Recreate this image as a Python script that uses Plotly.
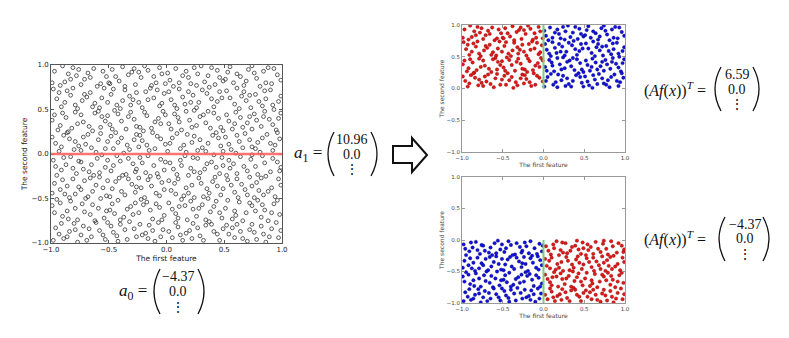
import plotly.graph_objects as go

# ---------------- data ----------------
points = [
 (-0.97,0.93),(-0.88,0.81),(-0.81,0.97),(-0.92,0.77),(-0.78,0.88),(-0.85,0.90),
 (-0.71,0.84),(-0.63,0.96),(-0.57,0.79),(-0.68,0.91),(-0.52,0.87),(-0.60,0.76),
 (-0.47,0.95),(-0.41,0.82),(-0.33,0.89),(-0.27,0.78),(-0.38,0.98),(-0.30,0.92),
 (-0.22,0.86),(-0.16,0.94),(-0.09,0.80),(-0.04,0.90),(-0.13,0.77),(-0.19,0.99),
 (0.03,0.83),(0.08,0.96),(0.14,0.88),(0.21,0.79),(0.17,0.93),(0.06,0.76),
 (0.27,0.90),(0.33,0.81),(0.39,0.97),(0.46,0.86),(0.42,0.78),(0.30,0.99),
 (0.53,0.92),(0.58,0.80),(0.64,0.87),(0.71,0.95),(0.67,0.77),(0.55,0.98),
 (0.78,0.85),(0.84,0.93),(0.91,0.79),(0.96,0.89),(0.88,0.97),(0.81,0.76),
 (-0.95,0.62),(-0.86,0.71),(-0.79,0.55),(-0.91,0.53),(-0.83,0.66),(-0.98,0.73),
 (-0.73,0.60),(-0.66,0.69),(-0.58,0.52),(-0.54,0.74),(-0.62,0.57),(-0.69,0.64),
 (-0.48,0.67),(-0.43,0.55),(-0.36,0.72),(-0.29,0.61),(-0.40,0.51),(-0.32,0.65),
 (-0.24,0.58),(-0.18,0.70),(-0.11,0.63),(-0.06,0.54),(-0.14,0.74),(-0.02,0.68),
 (0.04,0.61),(0.11,0.73),(0.16,0.56),(0.23,0.66),(0.09,0.51),(0.19,0.70),
 (0.28,0.58),(0.35,0.68),(0.41,0.53),(0.48,0.63),(0.37,0.75),(0.44,0.59),
 (0.52,0.71),(0.59,0.56),(0.65,0.65),(0.73,0.52),(0.61,0.74),(0.69,0.60),
 (0.77,0.67),(0.83,0.54),(0.90,0.72),(0.97,0.59),(0.86,0.62),(0.93,0.50),
 (-0.99,0.38),(-0.90,0.46),(-0.82,0.29),(-0.87,0.41),(-0.77,0.34),(-0.94,0.27),
 (-0.74,0.44),(-0.67,0.31),(-0.59,0.48),(-0.53,0.37),(-0.64,0.26),(-0.56,0.42),
 (-0.49,0.33),(-0.42,0.45),(-0.35,0.28),(-0.28,0.39),(-0.45,0.49),(-0.31,0.47),
 (-0.23,0.30),(-0.17,0.43),(-0.10,0.36),(-0.03,0.48),(-0.20,0.26),(-0.07,0.40),
 (0.02,0.34),(0.07,0.45),(0.13,0.27),(0.20,0.38),(0.24,0.49),(0.10,0.41),
 (0.26,0.32),(0.32,0.44),(0.38,0.29),(0.45,0.40),(0.49,0.26),(0.36,0.48),
 (0.54,0.37),(0.60,0.47),(0.66,0.30),(0.72,0.42),(0.57,0.28),(0.70,0.35),
 (0.76,0.45),(0.82,0.31),(0.89,0.39),(0.95,0.27),(0.99,0.46),(0.85,0.48),
 (-0.96,0.12),(-0.89,0.21),(-0.80,0.05),(-0.93,0.03),(-0.84,0.17),(-0.76,0.09),
 (-0.72,0.19),(-0.65,0.07),(-0.57,0.23),(-0.51,0.14),(-0.61,0.02),(-0.70,0.11),
 (-0.46,0.06),(-0.39,0.18),(-0.34,0.10),(-0.26,0.22),(-0.44,0.24),(-0.37,0.01),
 (-0.21,0.15),(-0.15,0.04),(-0.08,0.20),(-0.01,0.11),(-0.12,0.24),(-0.24,0.08),
 (0.05,0.18),(0.12,0.06),(0.18,0.22),(0.22,0.13),(0.01,0.03),(0.15,0.10),
 (0.29,0.16),(0.34,0.03),(0.40,0.21),(0.47,0.09),(0.43,0.24),(0.31,0.07),
 (0.51,0.19),(0.56,0.05),(0.63,0.14),(0.68,0.23),(0.74,0.08),(0.60,0.01),
 (0.79,0.13),(0.87,0.22),(0.92,0.04),(0.98,0.17),(0.81,0.02),(0.94,0.10),
 (-0.98,-0.07),(-0.91,-0.18),(-0.83,-0.03),(-0.78,-0.22),(-0.87,-0.12),(-0.95,-0.24),
 (-0.74,-0.09),(-0.67,-0.20),(-0.60,-0.05),(-0.53,-0.15),(-0.63,-0.24),(-0.56,-0.01),
 (-0.48,-0.19),(-0.40,-0.08),(-0.35,-0.23),(-0.29,-0.11),(-0.43,-0.02),(-0.26,-0.17),
 (-0.23,-0.04),(-0.18,-0.21),(-0.11,-0.13),(-0.05,-0.06),(-0.14,-0.25),(-0.02,-0.18),
 (0.03,-0.10),(0.09,-0.23),(0.16,-0.02),(0.21,-0.16),(0.12,-0.07),(0.24,-0.20),
 (0.27,-0.05),(0.33,-0.17),(0.39,-0.09),(0.46,-0.22),(0.41,-0.01),(0.49,-0.13),
 (0.52,-0.24),(0.58,-0.11),(0.64,-0.03),(0.70,-0.19),(0.55,-0.16),(0.73,-0.06),
 (0.77,-0.14),(0.83,-0.02),(0.90,-0.20),(0.96,-0.09),(0.86,-0.25),(0.99,-0.15),
 (-0.97,-0.33),(-0.88,-0.45),(-0.81,-0.28),(-0.92,-0.40),(-0.76,-0.37),(-0.84,-0.49),
 (-0.71,-0.30),(-0.64,-0.42),(-0.58,-0.26),(-0.52,-0.47),(-0.68,-0.48),(-0.61,-0.35),
 (-0.47,-0.39),(-0.41,-0.27),(-0.36,-0.46),(-0.30,-0.34),(-0.27,-0.43),(-0.44,-0.31),
 (-0.22,-0.38),(-0.16,-0.29),(-0.09,-0.44),(-0.04,-0.32),(-0.19,-0.49),(-0.07,-0.26),
 (0.04,-0.41),(0.10,-0.28),(0.15,-0.47),(0.22,-0.35),(0.07,-0.33),(0.19,-0.44),
 (0.28,-0.27),(0.35,-0.39),(0.40,-0.31),(0.47,-0.46),(0.32,-0.48),(0.44,-0.36),
 (0.53,-0.29),(0.59,-0.43),(0.65,-0.34),(0.72,-0.26),(0.62,-0.49),(0.68,-0.40),
 (0.78,-0.32),(0.84,-0.46),(0.91,-0.38),(0.97,-0.28),(0.80,-0.41),(0.94,-0.48),
 (-0.99,-0.58),(-0.90,-0.70),(-0.83,-0.53),(-0.86,-0.64),(-0.77,-0.74),(-0.95,-0.51),
 (-0.73,-0.56),(-0.66,-0.68),(-0.59,-0.61),(-0.54,-0.72),(-0.70,-0.50),(-0.62,-0.75),
 (-0.49,-0.63),(-0.42,-0.52),(-0.37,-0.71),(-0.31,-0.59),(-0.45,-0.67),(-0.27,-0.55),
 (-0.24,-0.66),(-0.17,-0.54),(-0.12,-0.73),(-0.06,-0.60),(-0.20,-0.57),(-0.02,-0.69),
 (0.02,-0.55),(0.08,-0.67),(0.13,-0.51),(0.18,-0.74),(0.23,-0.62),(0.11,-0.59),
 (0.26,-0.70),(0.31,-0.57),(0.38,-0.65),(0.43,-0.53),(0.48,-0.72),(0.36,-0.50),
 (0.51,-0.61),(0.57,-0.73),(0.63,-0.54),(0.69,-0.66),(0.74,-0.58),(0.60,-0.69),
 (0.79,-0.52),(0.85,-0.63),(0.88,-0.75),(0.93,-0.56),(0.98,-0.68),(0.82,-0.71),
 (-0.96,-0.83),(-0.89,-0.95),(-0.80,-0.78),(-0.93,-0.90),(-0.84,-0.87),(-0.77,-0.99),
 (-0.72,-0.81),(-0.65,-0.93),(-0.58,-0.86),(-0.51,-0.77),(-0.69,-0.97),(-0.55,-0.91),
 (-0.46,-0.88),(-0.40,-0.79),(-0.34,-0.96),(-0.28,-0.84),(-0.43,-0.92),(-0.32,-0.76),
 (-0.21,-0.91),(-0.15,-0.80),(-0.10,-0.98),(-0.03,-0.85),(-0.18,-0.89),(-0.07,-0.77),
 (0.05,-0.94),(0.10,-0.82),(0.17,-0.89),(0.23,-0.78),(0.14,-0.97),(0.20,-0.86),
 (0.29,-0.92),(0.34,-0.80),(0.41,-0.87),(0.46,-0.97),(0.37,-0.76),(0.49,-0.84),
 (0.54,-0.90),(0.61,-0.79),(0.66,-0.95),(0.72,-0.85),(0.57,-0.83),(0.70,-0.98),
 (0.76,-0.88),(0.82,-0.81),(0.89,-0.93),(0.95,-0.77),(0.99,-0.86),(0.86,-0.99),
 # second batch
 (-0.99,0.80),(-0.90,0.99),(-0.83,0.84),(-0.76,0.95),
 (-0.74,0.78),(-0.66,0.86),(-0.55,0.93),(-0.50,0.80),
 (-0.44,0.87),(-0.36,0.76),(-0.28,0.96),(-0.49,0.79),
 (-0.24,0.92),(-0.11,0.87),(-0.06,0.97),(-0.01,0.79),
 (0.01,0.91),(0.11,0.80),(0.19,0.86),(0.24,0.97),
 (0.26,0.77),(0.36,0.88),(0.44,0.94),(0.49,0.82),
 (0.51,0.84),(0.61,0.90),(0.69,0.82),(0.74,0.99),
 (0.76,0.91),(0.86,0.80),(0.93,0.96),(0.99,0.83),
 (-0.93,0.69),(-0.88,0.58),(-0.81,0.74),(-0.77,0.51),
 (-0.71,0.67),(-0.64,0.53),(-0.56,0.63),(-0.51,0.58),
 (-0.46,0.73),(-0.38,0.60),(-0.31,0.55),(-0.26,0.69),
 (-0.21,0.52),(-0.16,0.61),(-0.08,0.72),(-0.04,0.57),
 (0.02,0.70),(0.07,0.55),(0.14,0.64),(0.21,0.58),
 (0.31,0.72),(0.39,0.62),(0.46,0.70),(0.26,0.52),
 (0.55,0.63),(0.63,0.51),(0.67,0.70),(0.72,0.66),
 (0.80,0.59),(0.85,0.71),(0.92,0.55),(0.99,0.65),
 (-0.97,0.44),(-0.92,0.32),(-0.85,0.25),(-0.79,0.47),
 (-0.72,0.36),(-0.62,0.46),(-0.57,0.30),(-0.51,0.43),
 (-0.47,0.28),(-0.39,0.37),(-0.33,0.42),(-0.26,0.31),
 (-0.19,0.47),(-0.13,0.29),(-0.05,0.34),(-0.01,0.44),
 (0.04,0.28),(0.11,0.36),(0.17,0.48),(0.22,0.30),
 (0.29,0.42),(0.34,0.35),(0.41,0.46),(0.47,0.30),
 (0.52,0.44),(0.59,0.34),(0.64,0.41),(0.74,0.28),
 (0.78,0.38),(0.84,0.42),(0.92,0.33),(0.97,0.40),
 (-0.99,0.19),(-0.91,0.08),(-0.86,0.24),(-0.79,0.14),
 (-0.74,0.04),(-0.68,0.22),(-0.59,0.16),(-0.53,0.06),
 (-0.48,0.20),(-0.42,0.13),(-0.32,0.05),(-0.28,0.16),
 (-0.23,0.21),(-0.17,0.10),(-0.10,0.06),(-0.05,0.17),
 (0.03,0.12),(0.09,0.23),(0.17,0.02),(0.24,0.20),
 (0.27,0.04),(0.36,0.12),(0.45,0.18),(0.49,0.03),
 (0.54,0.11),(0.61,0.21),(0.66,0.07),(0.72,0.16),
 (0.77,0.06),(0.83,0.18),(0.90,0.12),(0.96,0.24),
 (-0.96,-0.14),(-0.89,-0.04),(-0.81,-0.16),(-0.76,-0.08),
 (-0.72,-0.17),(-0.65,-0.12),(-0.58,-0.21),(-0.51,-0.07),
 (-0.46,-0.13),(-0.38,-0.24),(-0.33,-0.05),(-0.27,-0.20),
 (-0.21,-0.10),(-0.16,-0.02),(-0.08,-0.22),(-0.01,-0.09),
 (0.06,-0.17),(0.13,-0.13),(0.19,-0.24),(0.23,-0.04),
 (0.29,-0.21),(0.35,-0.11),(0.43,-0.15),(0.48,-0.04),
 (0.54,-0.07),(0.61,-0.22),(0.67,-0.14),(0.74,-0.01),
 (0.79,-0.23),(0.85,-0.10),(0.92,-0.05),(0.98,-0.19),
 (-0.99,-0.44),(-0.90,-0.29),(-0.86,-0.36),(-0.79,-0.45),
 (-0.74,-0.40),(-0.66,-0.27),(-0.55,-0.38),(-0.51,-0.30),
 (-0.49,-0.48),(-0.39,-0.42),(-0.33,-0.28),(-0.26,-0.37),
 (-0.24,-0.27),(-0.13,-0.36),(-0.06,-0.47),(-0.02,-0.40),
 (0.02,-0.30),(0.08,-0.45),(0.17,-0.38),(0.24,-0.49),
 (0.30,-0.33),(0.37,-0.44),(0.42,-0.26),(0.49,-0.39),
 (0.56,-0.35),(0.61,-0.28),(0.70,-0.46),(0.74,-0.36),
 (0.76,-0.49),(0.82,-0.27),(0.88,-0.42),(0.99,-0.35),
 (-0.97,-0.66),(-0.92,-0.55),(-0.85,-0.73),(-0.79,-0.61),
 (-0.71,-0.65),(-0.64,-0.57),(-0.57,-0.50),(-0.52,-0.64),
 (-0.47,-0.56),(-0.40,-0.74),(-0.34,-0.62),(-0.29,-0.68),
 (-0.22,-0.51),(-0.14,-0.63),(-0.09,-0.56),(-0.04,-0.74),
 (0.05,-0.62),(0.10,-0.72),(0.16,-0.58),(0.21,-0.53),
 (0.28,-0.61),(0.34,-0.74),(0.41,-0.59),(0.46,-0.66),
 (0.53,-0.52),(0.59,-0.64),(0.66,-0.75),(0.72,-0.55),
 (0.77,-0.64),(0.83,-0.57),(0.91,-0.66),(0.96,-0.52),
 (-0.98,-0.97),(-0.91,-0.78),(-0.86,-0.93),(-0.79,-0.85),
 (-0.74,-0.91),(-0.67,-0.84),(-0.61,-0.77),(-0.53,-0.96),
 (-0.48,-0.81),(-0.42,-0.98),(-0.36,-0.85),(-0.26,-0.93),
 (-0.23,-0.79),(-0.16,-0.95),(-0.12,-0.86),(-0.05,-0.93),
 (0.02,-0.87),(0.08,-0.77),(0.12,-0.91),(0.22,-0.95),
 (0.27,-0.83),(0.32,-0.97),(0.39,-0.79),(0.44,-0.90),
 (0.52,-0.80),(0.59,-0.94),(0.64,-0.87),(0.74,-0.79),
 (0.78,-0.96),(0.84,-0.90),(0.91,-0.84),(0.97,-0.94),
]
xs = [p[0] for p in points]
ys = [p[1] for p in points]

tick_vals = [-1.0, -0.5, 0.0, 0.5, 1.0]
tick_text = ["\u22121.0", "\u22120.5", "0.0", "0.5", "1.0"]
x_title = "The first feature"
y_title = "The second feature"

a1_entries = ["10.96", "0.0", "\u22ee"]
a0_entries = ["\u22124.37", "0.0", "\u22ee"]
top_entries = ["6.59", "0.0", "\u22ee"]
bot_entries = ["\u22124.37", "0.0", "\u22ee"]

RED = "#e01818"
RED_EDGE = "#8a0000"
BLUE = "#1010e0"
BLUE_EDGE = "#000070"
GREEN = "#7ccc7c"

W, H = 789, 338
def px(x): return x / W
def py(y): return 1 - y / H

fig = go.Figure()

fig.add_trace(go.Scatter(x=xs, y=ys, mode="markers", xaxis="x", yaxis="y",
    marker=dict(symbol="circle-open", size=3.8, color="#333", line=dict(width=0.8)),
    showlegend=False, hoverinfo="skip"))

tr_red = [(x, y) for x, y in points if y > 0 and x < 0]
tr_blue = [(x, y) for x, y in points if y > 0 and x >= 0]
br_blue = [(x, y) for x, y in points if y < 0 and x < 0]
br_red = [(x, y) for x, y in points if y < 0 and x >= 0]

def sc(pts, color, edge, ax, ay):
    fig.add_trace(go.Scatter(x=[p[0] for p in pts], y=[p[1] for p in pts], mode="markers",
        xaxis=ax, yaxis=ay,
        marker=dict(symbol="circle", size=3.4, color=color, line=dict(width=0.4, color=edge)),
        showlegend=False, hoverinfo="skip"))

sc(tr_red, RED, RED_EDGE, "x2", "y2")
sc(tr_blue, BLUE, BLUE_EDGE, "x2", "y2")
sc(br_blue, BLUE, BLUE_EDGE, "x3", "y3")
sc(br_red, RED, RED_EDGE, "x3", "y3")

def axis(domain, anchor, title, size_t, size_tick, color, linecolor, standoff):
    return dict(domain=domain, anchor=anchor, range=[-1, 1], tickvals=tick_vals, ticktext=tick_text,
                ticks="inside", ticklen=3, tickcolor=linecolor, showgrid=False, zeroline=False,
                showline=True, linecolor=linecolor, linewidth=1, mirror="ticks", automargin=False,
                tickfont=dict(family="DejaVu Sans", size=size_tick, color=color),
                title=dict(text=title, font=dict(family="DejaVu Sans", size=size_t, color=color), standoff=standoff))

fig.update_layout(
    width=W, height=H, margin=dict(l=0, r=0, t=0, b=0, autoexpand=False),
    paper_bgcolor="white", plot_bgcolor="white",
    xaxis=axis([px(51), px(282)], "y", x_title, 7.5, 7, "#222", "#555", 2),
    yaxis=axis([py(243), py(65)], "x", y_title, 7.5, 7, "#222", "#555", 2),
    xaxis2=axis([px(462), px(625)], "y2", x_title, 6, 5.5, "#444", "#999", 1),
    yaxis2=axis([py(152), py(25)], "x2", y_title, 6, 5.5, "#444", "#999", 1),
    xaxis3=axis([px(462), px(625)], "y3", x_title, 6, 5.5, "#444", "#999", 1),
    yaxis3=axis([py(303), py(177)], "x3", y_title, 6, 5.5, "#444", "#999", 1),
)

shapes = []
shapes.append(dict(type="line", xref="x", yref="y", x0=-1, x1=1, y0=0, y1=0,
                   line=dict(color="rgba(255,90,90,0.85)", width=2.5)))
shapes.append(dict(type="line", xref="x2", yref="y2", x0=0, x1=0, y0=0, y1=1,
                   line=dict(color=GREEN, width=2)))
shapes.append(dict(type="line", xref="x3", yref="y3", x0=0, x1=0, y0=-1, y1=0,
                   line=dict(color=GREEN, width=2)))

def paren(xo, xi, yt, yb, lw=1.3):
    ym = (yt + yb) / 2
    xc = 2 * xo - xi
    path = f"M {px(xi)},{py(yt)} Q {px(xc)},{py(ym)} {px(xi)},{py(yb)}"
    shapes.append(dict(type="path", xref="paper", yref="paper", path=path,
                       line=dict(color="#111", width=lw)))

annotations = []
FONT = "Liberation Serif"
def txt(x, y, s, size=16, anchor="center"):
    annotations.append(dict(x=px(x), y=py(y), xref="paper", yref="paper", text=s, showarrow=False,
                            xanchor=anchor, yanchor="middle",
                            font=dict(family=FONT, size=size, color="#111")))

def vector(label_x, label_text, cx, lx, rx, yt, yb, entries, label_size=17, esize=14):
    ym = (yt + yb) / 2
    txt(label_x, ym, label_text, label_size, "left")
    paren(lx, lx + 6, yt, yb)
    paren(rx, rx - 6, yt, yb)
    step = (yb - yt) / 3.0
    for i, e in enumerate(entries):
        txt(cx, yt + step * (i + 0.5) + (1 if i == 2 else 0), e, esize)

vector(292, "<i>a</i><sub>1</sub> =", 352, 328, 377, 132, 176, a1_entries)
vector(117, "<i>a</i><sub>0</sub> =", 178, 154, 204, 269, 314, a0_entries)
vector(642, "(<i>Af</i>(<i>x</i>))<sup><i>T</i></sup> =", 737, 715, 759, 67, 111, top_entries, 16)
vector(642, "(<i>Af</i>(<i>x</i>))<sup><i>T</i></sup> =", 745, 719, 769, 217, 261, bot_entries, 16)

pts_arrow = [(393, 146), (412, 146), (412, 138), (427, 155), (412, 172), (412, 163), (393, 163)]
path = "M " + " L ".join(f"{px(a)},{py(b)}" for a, b in pts_arrow) + " Z"
shapes.append(dict(type="path", xref="paper", yref="paper", path=path,
                   line=dict(color="#111", width=2), fillcolor="white"))

fig.update_layout(shapes=shapes, annotations=annotations)
fig.write_html("out.html", config={"displayModeBar": False},
               post_script="document.body.style.margin='0';")
